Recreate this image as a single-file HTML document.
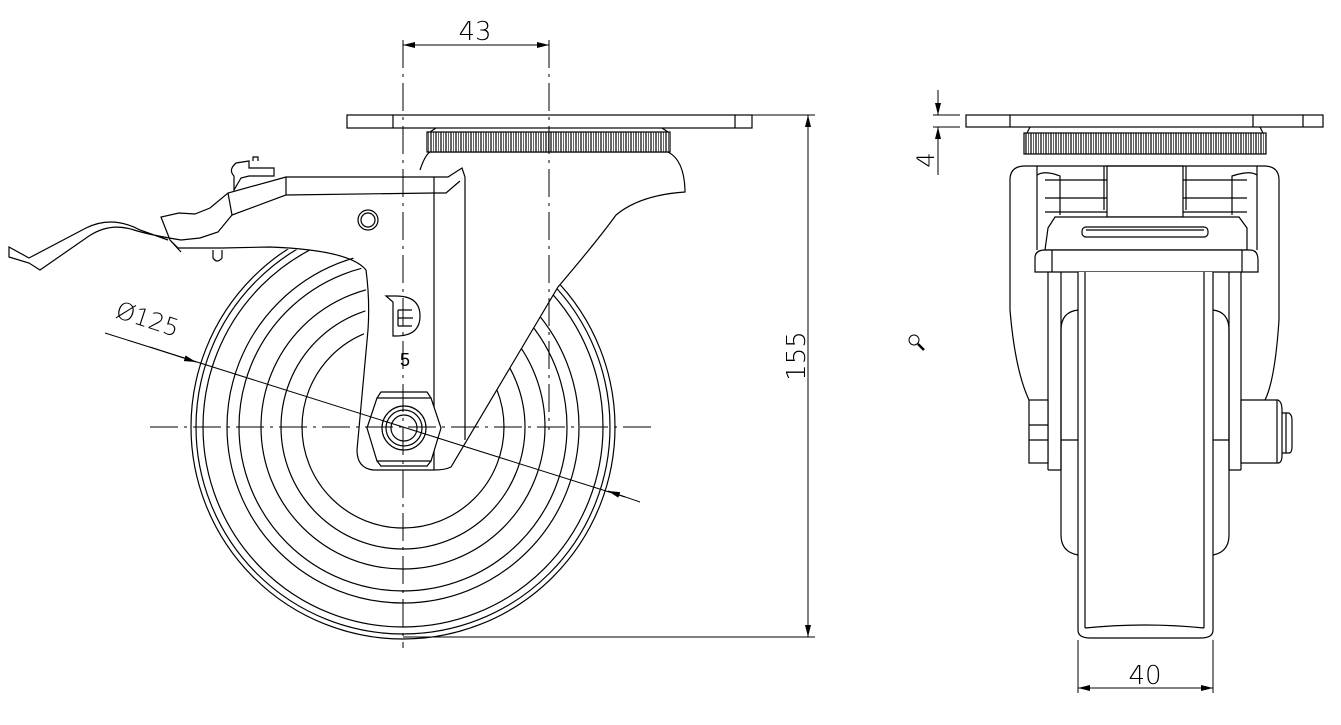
<!DOCTYPE html>
<html><head><meta charset="utf-8"><style>
html,body{margin:0;padding:0;background:#fff;}
svg{display:block;}
text{font-family:"DejaVu Sans","Liberation Sans",sans-serif;font-weight:300;fill:#000;}
</style></head><body>
<svg width="1341" height="725" viewBox="0 0 1341 725" xmlns="http://www.w3.org/2000/svg">
<defs>
<pattern id="kn" x="0" y="0" width="5" height="30" patternUnits="userSpaceOnUse">
<rect width="5" height="30" fill="#fff"/><line x1="1" y1="0" x2="1" y2="30" stroke="#000" stroke-width="1.2"/><line x1="3.5" y1="0" x2="3.5" y2="30" stroke="#000" stroke-width="0.6"/>
</pattern>
<marker id="ar" markerWidth="12" markerHeight="6" refX="12" refY="3" orient="auto" markerUnits="userSpaceOnUse"><path d="M0,0 L12,3 L0,6 Z" fill="#000"/></marker>
</defs>
<g fill="none" stroke="#000" stroke-width="1.2">
<g fill="none">
<circle cx="403" cy="427" r="212"/><circle cx="403" cy="427" r="207"/><circle cx="403" cy="427" r="200"/>
<circle cx="403" cy="427" r="176"/><circle cx="403" cy="427" r="164"/><circle cx="403" cy="427" r="142"/>
<circle cx="403" cy="427" r="122"/><circle cx="403" cy="427" r="101"/>
</g>
<!-- fork body white fill -->
<path d="M434,177 L434,470 L373,470 Q357,468 357,450 L366,300 Q368,262 345,253 L270,248 L230,250 L190,246 L170,240 L161,217 L179,213 L210,208 L228,193 L286,177 Z" fill="#fff" stroke="none"/>
<path d="M420,170 L430,152 L668,152 Q684,160 685,190 L685,192 Q640,195 616,215 Q598,240 558,287 L451,467 Q445,470 434,470 L434,177 Z" fill="#fff" stroke="none"/>
<path d="M434,177 L286,177 L228,193 L210,208 L195,214 L179,213 L161,217 L170,240 L181,252 M286,177 L286,195 L232,215 L218,232 L200,238 L181,240 M228,193 L232,215 M170,240 L178,248 L222,248 L270,247 Q350,250 366,270 Q370,300 368,330 L357,450 Q357,468 373,470 L434,470"/>
<path d="M286,195 L434,193"/>
<path d="M181,240 Q150,235 134,230 Q110,222 89,236 L40,270 L29,263 L9,257 L9,247 L29,258 L86,228 Q112,215 140,230 L168,240"/>
<path d="M213,250 L213,258 Q217,264 222,258 L222,250"/>
<path d="M234,176 Q228,170 236,163 L249,161 L249,168 L274,168 L274,176 L249,176 L241,178 L234,190 Z"/>
<path d="M253,161 L253,157 L258,157 L258,161"/>
<!-- fork right -->
<path d="M420,170 Q425,155 430,152 L668,152 Q684,160 685,190 L685,192 Q640,195 616,215 Q598,240 558,287 L451,467 Q445,470 434,470"/>
<path d="M434,177 L434,470 M465,177 L465,440 M434,177 L448,177 L462,168 L465,177 M434,193 L446,193 L460,181"/>
<circle cx="368" cy="220" r="10"/><circle cx="368" cy="220" r="7"/>
<path d="M367,428 L377,398 L431,398 L441,428 L431,461 L377,461 Z" fill="#fff"/>
<path d="M377,398 L381,392 L427,392 L431,398 M377,461 L381,466 L427,466 L431,461"/>
<circle cx="404" cy="428" r="22"/><circle cx="404" cy="428" r="18"/><circle cx="404" cy="428" r="13"/>
<path d="M386,296 L396,296 Q420,296 420,316 Q420,336 396,336 L393,336 L393,302 Z"/>
<path d="M398,310 L412,310 M398,318 L413,318 M398,326 L412,326 M398,310 L398,326"/>
<rect x="347" y="115" width="405" height="13" fill="#fff"/>
<path d="M393,115 L393,128 M735,115 L735,128"/>
<path d="M430,132 L436,128 M668,132 L662,128"/>
<rect x="427" y="132" width="243" height="20" fill="url(#kn)"/>
</g>
<g stroke="#000" stroke-width="1" fill="none" stroke-dasharray="28,6,3,6">
<line x1="150" y1="427" x2="655" y2="427"/>
<line x1="403" y1="40" x2="403" y2="648"/>
<line x1="549" y1="40" x2="549" y2="430"/>
</g>
<g stroke="#000" stroke-width="1" fill="none">
<line x1="403" y1="45" x2="549" y2="45" marker-end="url(#ar)"/>
<line x1="549" y1="45" x2="403" y2="45" marker-end="url(#ar)"/>
<line x1="752" y1="115" x2="815" y2="115"/><line x1="403" y1="637" x2="815" y2="637"/>
<line x1="808" y1="376" x2="808" y2="115" marker-end="url(#ar)"/>
<line x1="808" y1="376" x2="808" y2="637" marker-end="url(#ar)"/>
<line x1="105" y1="333" x2="625" y2="497"/>
<line x1="150" y1="347" x2="196" y2="362" marker-end="url(#ar)"/>
<line x1="640" y1="502" x2="608" y2="491" marker-end="url(#ar)"/>
</g>
<text x="475" y="40" font-size="26" text-anchor="middle">43</text>
<text transform="translate(805,356) rotate(-90)" font-size="26" text-anchor="middle">155</text>
<text transform="translate(145,327) rotate(18)" font-size="24" text-anchor="middle">Ø125</text>
<text x="405" y="366" font-size="18" text-anchor="middle" font-weight="bold" style="font-family:'Liberation Sans',sans-serif">5</text>

<g fill="none" stroke="#000" stroke-width="1.2">
<path d="M1010,180 Q1010,166 1025,166 L1264,166 Q1279,166 1279,180 L1279,320 Q1275,380 1265,400 M1010,180 L1010,310 Q1015,370 1029,400"/>
<path d="M1037,166 L1037,250 M1257,166 L1257,250"/>
<path d="M1037,175 Q1045,170 1060,176 L1060,215 M1257,175 Q1250,170 1232,176 L1232,215"/>
<path d="M1045,180 L1107,180 M1045,198 L1107,198 M1045,212 L1107,212 M1183,180 L1247,180 M1183,198 L1247,198 M1183,212 L1247,212"/>
<rect x="1107" y="166" width="76" height="51"/>
<path d="M1104,166 L1104,210 M1186,166 L1186,210"/>
<path d="M1048,228 L1055,217 L1239,217 L1247,228 L1247,250 L1045,250 Z" fill="#fff"/>
<path d="M1035,258 Q1035,250 1045,250 L1250,250 Q1258,250 1258,260 L1258,272 L1035,272 Z" fill="#fff"/>
<path d="M1052,250 L1052,272 M1242,250 L1242,272"/>
<rect x="1082" y="227" width="126" height="10" rx="4"/>
<path d="M1086,230 L1204,230"/>
<path d="M1048,272 L1048,470 M1061,272 L1061,470 M1048,470 L1061,470 M1241,272 L1241,470 M1229,272 L1229,470 M1229,470 L1241,470"/>
<path d="M1061,440 L1078,440 M1213,440 L1229,440"/>
<path d="M1078,310 Q1061,312 1061,330 L1061,535 Q1061,552 1078,555"/>
<path d="M1213,310 Q1229,312 1229,330 L1229,535 Q1229,552 1213,555"/>
<path d="M1078,272 L1078,630 Q1078,638 1090,638 L1201,638 Q1213,638 1213,630 L1213,272" fill="#fff"/>
<path d="M1085,272 L1085,628 M1204,272 L1204,628 M1085,628 Q1145,622 1204,628"/>
<rect x="1029" y="400" width="19" height="63" fill="#fff"/>
<path d="M1029,425 L1048,425 M1029,440 L1048,440"/>
<path d="M1241,400 L1278,400 Q1282,402 1282,410 L1282,455 Q1282,463 1278,463 L1241,463 Z" fill="#fff"/>
<path d="M1277,400 L1277,463 M1282,413 L1289,413 Q1292,415 1292,420 L1292,446 Q1292,453 1289,453 L1282,453 M1286,413 L1286,453"/>
<rect x="966" y="115" width="357" height="12" fill="#fff"/>
<path d="M1010,115 L1010,127 M1253,115 L1253,127 M1303,115 L1303,127"/>
<path d="M1027,133 L1030,127 M1263,133 L1260,127"/>
<rect x="1024" y="133" width="242" height="21" fill="url(#kn)"/>
</g>
<g stroke="#000" stroke-width="1" fill="none">
<line x1="933" y1="115" x2="960" y2="115"/><line x1="933" y1="127" x2="960" y2="127"/>
<line x1="938" y1="90" x2="938" y2="115" marker-end="url(#ar)"/>
<line x1="938" y1="175" x2="938" y2="127" marker-end="url(#ar)"/>
<line x1="1078" y1="640" x2="1078" y2="693"/><line x1="1213" y1="640" x2="1213" y2="693"/>
<line x1="1145" y1="688" x2="1078" y2="688" marker-end="url(#ar)"/>
<line x1="1145" y1="688" x2="1213" y2="688" marker-end="url(#ar)"/>
<circle cx="914" cy="340" r="5"/><line x1="918" y1="344" x2="924" y2="350" stroke-width="2.5"/>
</g>
<text transform="translate(934,160) rotate(-90)" font-size="24" text-anchor="middle">4</text>
<text x="1145" y="684" font-size="26" text-anchor="middle">40</text>
</svg>
</body></html>
